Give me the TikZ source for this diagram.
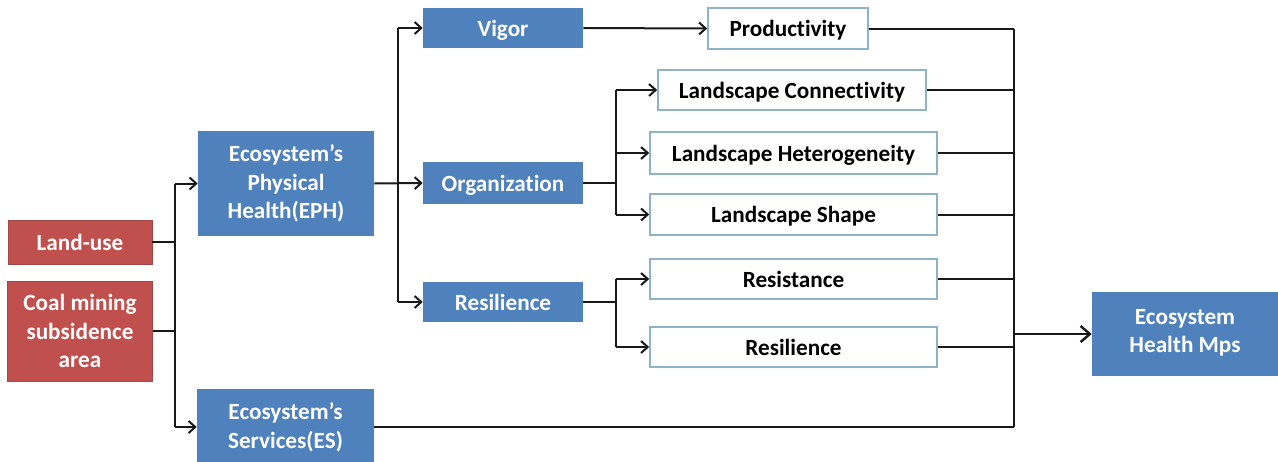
\documentclass[tikz,border=0pt]{standalone}
\usepackage{fontspec}
\setmainfont{Carlito}[Ligatures=NoCommon]
\usetikzlibrary{arrows.meta, positioning, calc}
\definecolor{boxblue}{HTML}{4F81BD}
\definecolor{boxred}{HTML}{C0504D}
\definecolor{edgered}{HTML}{A24A48}
\definecolor{edgeteal}{HTML}{8DB4C6}

\begin{document}
\begin{tikzpicture}[x=0.75pt, y=-0.75pt,
  font=\fontsize{17.4}{21.5}\selectfont\bfseries,
  bluebox/.style={fill=boxblue, draw=none, text=white, align=center, inner sep=0pt},
  redbox/.style={fill=boxred, draw=edgered, line width=0.6pt, text=white, align=center, inner sep=0pt},
  whitebox/.style={fill=white, draw=edgeteal, line width=1.2pt, text=black, align=center, inner sep=0pt},
  flat/.style={text depth=0pt},
  wire/.style={black!90, line width=1.5pt},
  feed/.style={wire, -{Straight Barb[length=5pt, width=9pt]}},
  bigfeed/.style={wire, line width=1.8pt, -{Straight Barb[length=7pt, width=12pt]}}]

\useasboundingbox (0,0) rectangle (1278,461);

% ---- sources -----------------------------------------------------------
\node[redbox, flat, minimum width=144*0.75pt, minimum height=44*0.75pt] (landuse) at (80,242) {Land-use};
\node[redbox, minimum width=145*0.75pt, minimum height=100*0.75pt] (coal) at (80,331)
  {Coal mining\\subsidence\\area};

% ---- first level -------------------------------------------------------
\node[bluebox, minimum width=176*0.75pt, minimum height=105*0.75pt] (eph) at (286,183.5)
  {Ecosystem’s\\Physical\\Health(EPH)};
\node[bluebox, minimum width=177*0.75pt, minimum height=76*0.75pt] (es) at (285.5,427)
  {Ecosystem’s\\Services(ES)};

% ---- second level ------------------------------------------------------
\node[bluebox, flat, minimum width=160*0.75pt, minimum height=40*0.75pt] (vigor) at (503,28) {Vigor};
\node[bluebox, flat, minimum width=160*0.75pt, minimum height=42*0.75pt] (organ) at (503,183) {Organization};
\node[bluebox, flat, minimum width=160*0.75pt, minimum height=40*0.75pt] (resil) at (503,302) {Resilience};

% ---- indicators --------------------------------------------------------
\node[whitebox, flat, minimum width=160*0.75pt, minimum height=41*0.75pt] (prod) at (788,28.5) {Productivity};
\node[whitebox, flat, minimum width=268*0.75pt, minimum height=40*0.75pt] (lconn) at (792,90) {Landscape Connectivity};
\node[whitebox, flat, minimum width=287*0.75pt, minimum height=42*0.75pt] (lhet) at (793.5,153) {Landscape Heterogeneity};
\node[whitebox, flat, minimum width=287*0.75pt, minimum height=41*0.75pt] (lshape) at (793.5,214.5) {Landscape Shape};
\node[whitebox, flat, minimum width=287*0.75pt, minimum height=40*0.75pt] (resist) at (793.5,279) {Resistance};
\node[whitebox, flat, minimum width=287*0.75pt, minimum height=40*0.75pt] (resil2) at (793.5,347) {Resilience};

% ---- result ------------------------------------------------------------
\node[bluebox, text depth=0.45em, minimum width=186*0.75pt, minimum height=84*0.75pt] (ehm) at (1185,334)
  {Ecosystem\\Health Mps};

% ---- bus lines ---------------------------------------------------------
\coordinate (busA) at (175,0);
\coordinate (busB) at (398,0);
\coordinate (busC) at (616,0);
\coordinate (busD) at (1014,0);

% sources -> EPH / ES
\draw[wire] (landuse.east) -- (landuse.east -| busA);
\draw[wire] (coal.east) -- (coal.east -| busA);
\draw[wire] (busA |- eph) -- (busA |- es);
\draw[feed] (busA |- eph) -- (eph.west);
\draw[feed] (busA |- es) -- (es.west);

% EPH -> vigor / organization / resilience
\draw[wire] (busB |- vigor) -- (busB |- resil);
\draw[feed] (eph.east) -- (organ.west);
\draw[feed] (busB |- vigor) -- (vigor.west);
\draw[feed] (busB |- resil) -- (resil.west);
\draw[feed] (vigor.east) -- (prod.west);

% organization -> landscape metrics
\draw[wire] (organ.east) -- (organ.east -| busC);
\draw[wire] (busC |- lconn) -- (busC |- lshape);
\draw[feed] (busC |- lconn) -- (lconn.west);
\draw[feed] (busC |- lhet) -- (lhet.west);
\draw[feed] (busC |- lshape) -- (lshape.west);

% resilience -> resistance / resilience
\draw[wire] (resil.east) -- (resil.east -| busC);
\draw[wire] (busC |- resist) -- (busC |- resil2);
\draw[feed] (busC |- resist) -- (resist.west);
\draw[feed] (busC |- resil2) -- (resil2.west);

% everything -> health maps
\foreach \src in {prod, lconn, lhet, lshape, resist, resil2, es}
  \draw[wire] (\src.east) -- (\src.east -| busD);
\draw[wire] (busD |- prod) -- (busD |- es);
\draw[wire, line width=2.2pt] (busD |- lconn) -- (busD |- resil2);
\draw[bigfeed] (busD |- ehm) -- (ehm.west);
\end{tikzpicture}
\end{document}
